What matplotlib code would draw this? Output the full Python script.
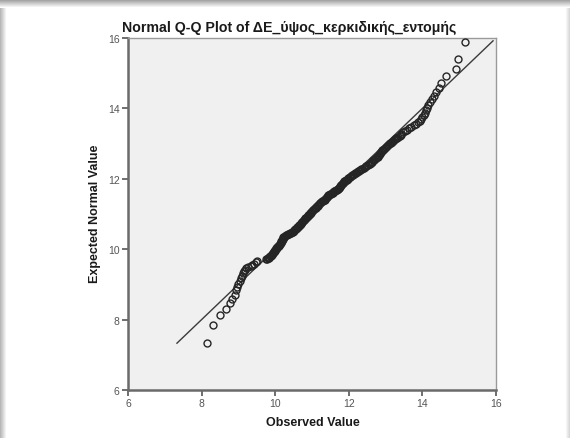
import numpy as np
import matplotlib
matplotlib.use("Agg")
import matplotlib.pyplot as plt

# ---- data ----
observed = [
    8.15, 8.31, 8.50, 8.66, 8.77, 8.82, 8.91, 8.93, 8.95, 9.00, 9.04, 9.08, 9.10, 9.12, 9.15,
    9.18, 9.20, 9.26, 9.33, 9.38, 9.43, 9.47, 9.50,
    9.75, 9.80, 9.84, 9.88, 9.91, 9.94, 9.97, 10.00, 10.03, 10.06, 10.09, 10.12, 10.15, 10.17,
    10.19, 10.20, 10.22, 10.26, 10.32, 10.38, 10.43, 10.48, 10.52, 10.56, 10.60, 10.64, 10.68,
    10.71, 10.74, 10.77, 10.80, 10.84, 10.88, 10.92, 10.95, 10.98, 11.02, 11.06, 11.10, 11.14,
    11.17, 11.21, 11.25, 11.30, 11.34, 11.38, 11.41, 11.44, 11.48, 11.53, 11.58, 11.63, 11.68,
    11.71, 11.74, 11.77, 11.80, 11.83, 11.86, 11.89, 11.94, 11.99, 12.04, 12.09, 12.14, 12.19,
    12.25, 12.31, 12.37, 12.43, 12.48, 12.54, 12.59, 12.64, 12.69, 12.74, 12.78, 12.82, 12.86,
    12.89, 12.93, 12.98, 13.03, 13.08, 13.14, 13.20, 13.26, 13.32, 13.38, 13.43, 13.48, 13.53,
    13.58, 13.64, 13.70, 13.76, 13.82, 13.88, 13.93, 13.97, 14.00, 14.03, 14.06, 14.09, 14.12,
    14.16, 14.20, 14.26, 14.31, 14.37, 14.44, 14.50, 14.64, 14.92, 14.96, 15.16,
]
expected = [
    7.34, 7.85, 8.13, 8.31, 8.47, 8.59, 8.70, 8.84, 8.94, 9.02, 9.10, 9.17, 9.24, 9.31, 9.37,
    9.42, 9.46, 9.49, 9.52, 9.55, 9.59, 9.63, 9.67,
    9.71, 9.74, 9.78, 9.82, 9.86, 9.90, 9.94, 9.98, 10.02, 10.06, 10.10, 10.14, 10.18, 10.22,
    10.26, 10.30, 10.34, 10.37, 10.40, 10.43, 10.46, 10.50, 10.54, 10.58, 10.62, 10.66, 10.70,
    10.74, 10.78, 10.82, 10.86, 10.90, 10.94, 10.98, 11.02, 11.06, 11.10, 11.14, 11.18, 11.22,
    11.26, 11.30, 11.34, 11.37, 11.41, 11.45, 11.49, 11.53, 11.56, 11.59, 11.62, 11.65, 11.68,
    11.71, 11.75, 11.79, 11.83, 11.87, 11.91, 11.95, 11.98, 12.02, 12.06, 12.10, 12.14, 12.17,
    12.21, 12.25, 12.29, 12.33, 12.37, 12.41, 12.45, 12.49, 12.54, 12.58, 12.63, 12.68, 12.73,
    12.78, 12.83, 12.88, 12.93, 12.98, 13.03, 13.07, 13.12, 13.17, 13.22, 13.27, 13.32, 13.36,
    13.40, 13.44, 13.48, 13.52, 13.56, 13.60, 13.65, 13.70, 13.76, 13.82, 13.88, 13.95, 14.02,
    14.10, 14.18, 14.27, 14.36, 14.46, 14.58, 14.73, 14.91, 15.12, 15.39, 15.89,
]
# further cases in the dense central band
observed_center = [
    9.77, 9.82, 9.86, 9.90, 9.93, 9.96, 9.99, 10.02, 10.05, 10.08, 10.11, 10.14, 10.16, 10.18,
    10.20, 10.21, 10.24, 10.29, 10.35, 10.41, 10.46, 10.50, 10.54, 10.58, 10.62, 10.66, 10.70,
    10.73, 10.76, 10.79, 10.82, 10.86, 10.90, 10.94, 10.97, 11.00, 11.04, 11.08, 11.12, 11.16,
    11.19, 11.23, 11.28, 11.32, 11.36, 11.40, 11.43, 11.46, 11.51, 11.56, 11.61, 11.66, 11.70,
    11.73, 11.76, 11.79, 11.82, 11.85, 11.88, 11.92, 11.97, 12.02, 12.07, 12.12, 12.17, 12.22,
    12.28, 12.34, 12.40, 12.46, 12.51, 12.57, 12.62, 12.67, 12.72, 12.76, 12.80, 12.84, 12.88,
    12.91, 12.96, 13.01, 13.06, 13.11, 13.17, 13.23, 13.29, 13.35, 13.41,
]
expected_center = [
    9.72, 9.76, 9.80, 9.84, 9.88, 9.92, 9.96, 10.00, 10.04, 10.08, 10.12, 10.16, 10.20, 10.24,
    10.28, 10.32, 10.36, 10.39, 10.42, 10.45, 10.48, 10.52, 10.56, 10.60, 10.64, 10.68, 10.72,
    10.76, 10.80, 10.84, 10.88, 10.92, 10.96, 11.00, 11.04, 11.08, 11.12, 11.16, 11.20, 11.24,
    11.28, 11.32, 11.36, 11.39, 11.43, 11.47, 11.51, 11.55, 11.58, 11.61, 11.64, 11.67, 11.70,
    11.73, 11.77, 11.81, 11.85, 11.89, 11.93, 11.97, 12.00, 12.04, 12.08, 12.12, 12.16, 12.19,
    12.23, 12.27, 12.31, 12.35, 12.39, 12.43, 12.47, 12.52, 12.56, 12.61, 12.66, 12.71, 12.76,
    12.81, 12.86, 12.91, 12.96, 13.01, 13.05, 13.10, 13.15, 13.20, 13.25,
]
ref_line = [7.33, 15.92]

x_ticks = [6, 8, 10, 12, 14, 16]
y_ticks = [6, 8, 10, 12, 14, 16]

title = "Normal Q-Q Plot of ΔΕ_ύψος_κερκιδικής_εντομής"
xlabel = "Observed Value"
ylabel = "Expected Normal Value"

plt.rcParams['font.family'] = ['Liberation Sans', 'DejaVu Sans']

W, H = 570, 439
fig = plt.figure(figsize=(W / 100, H / 100), dpi=100)
fig.patch.set_facecolor('white')

# decorative frame of the screenshot (gray gradient at top and sides)
bg = fig.add_axes([0, 0, 1, 1], zorder=-10)
bg.axis('off')
top = np.linspace(0.60, 1.0, 9).reshape(-1, 1) * np.ones((1, 2))
bg.imshow(np.dstack([top] * 3), extent=(0, W, 9, 0), aspect='auto')
left = np.linspace(0.72, 1.0, 7).reshape(1, -1) * np.ones((2, 1))
bg.imshow(np.dstack([left] * 3), extent=(0, 7, H, 9), aspect='auto')
right = np.linspace(1.0, 0.85, 5).reshape(1, -1) * np.ones((2, 1))
bg.imshow(np.dstack([right] * 3), extent=(W - 5, W, H, 9), aspect='auto')
bg.set_xlim(0, W)
bg.set_ylim(H, 0)

ax = fig.add_axes([128 / W, 1 - 391 / H, (496 - 128) / W, (391 - 39) / H])
ax.set_facecolor('#f0f0f0')

ax.plot(ref_line, ref_line, color='#3a3a3a', lw=1.0, zorder=2)
all_obs = observed + observed_center
all_exp = expected + expected_center
ax.plot(all_obs, all_exp, linestyle='none', marker='o', markersize=5.0,
        markerfacecolor='none', markeredgecolor='#252525', markeredgewidth=1.0, zorder=3)

ax.set_xlim(6, 16)
ax.set_ylim(6, 16)
ax.set_xticks(x_ticks)
ax.set_yticks(y_ticks)
ax.set_xticklabels([str(t) for t in x_ticks])
ax.set_yticklabels([str(t) for t in y_ticks])
ax.tick_params(axis='both', direction='out', length=4, width=1.2, color='#555555',
               labelsize=7.5, labelcolor='#555555', pad=2)

for side in ['left', 'bottom']:
    ax.spines[side].set_color('#6a6a6a')
    ax.spines[side].set_linewidth(1.8)
for side in ['top', 'right']:
    ax.spines[side].set_color('#9a9a9a')
    ax.spines[side].set_linewidth(1.0)

fig.text(289 / W, 1 - 28 / H, title, ha='center', va='center', fontsize=10.2,
         fontweight='bold', color='#1a1a1a')
fig.text(313 / W, 1 - 423 / H, xlabel, ha='center', va='center', fontsize=9,
         fontweight='bold', color='#1a1a1a')
fig.text(95 / W, 1 - 214 / H, ylabel, ha='center', va='center', fontsize=9,
         fontweight='bold', color='#1a1a1a', rotation=90)

fig.savefig('out.png', dpi=100)
